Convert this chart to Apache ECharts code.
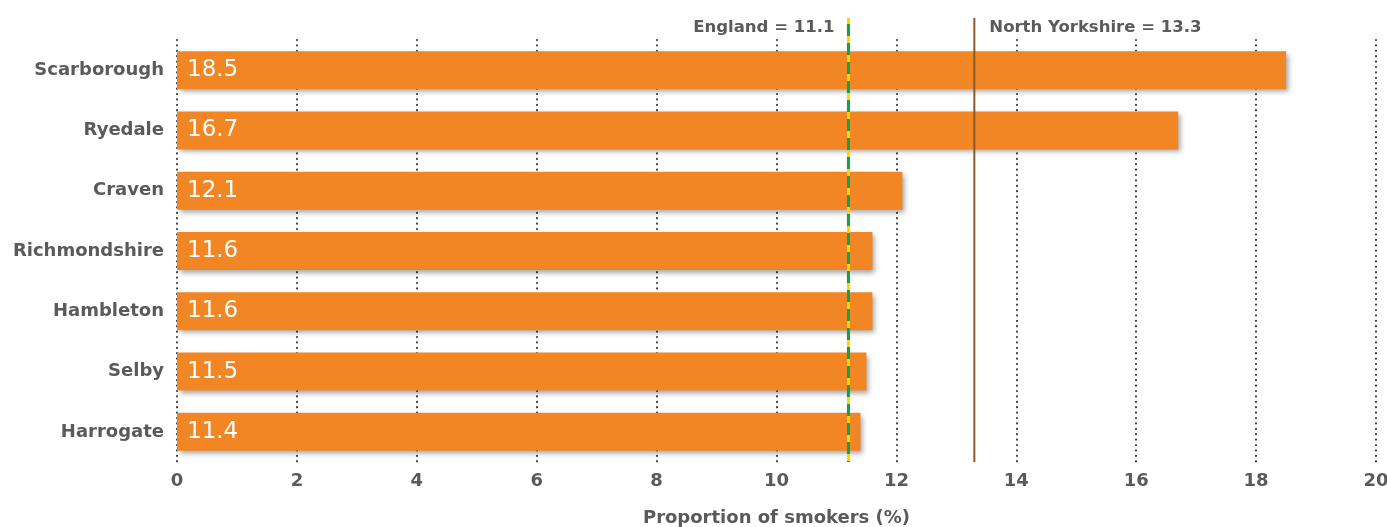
<!DOCTYPE html>
<html>
<head>
<meta charset="utf-8">
<script src="https://cdn.jsdelivr.net/npm/echarts@6/dist/echarts.min.js"></script>
<style>
html,body{margin:0;padding:0;background:#fff;}
#chart{width:1387px;height:527px;}
</style>
</head>
<body>
<div id="chart"></div>
<script>
const categories = ['Scarborough','Ryedale','Craven','Richmondshire','Hambleton','Selby','Harrogate'];
const values = [18.5, 16.7, 12.1, 11.6, 11.6, 11.5, 11.4];
const xTicks = [0,2,4,6,8,10,12,14,16,18,20];
const englandValue = 11.2;
const englandLabel = 'England = 11.1';
const nyValue = 13.3;
const nyLabel = 'North Yorkshire = 13.3';

const FONT = '"DejaVu Sans", sans-serif';
const TXT = '#5a5a5a';
const chart = echarts.init(document.getElementById('chart'), null, {renderer:'canvas'});

function refLine(value, label, kind) {
  return {
    type: 'custom',
    coordinateSystem: 'cartesian2d',
    data: [[value, 0]],
    z: 10,
    silent: true,
    renderItem: function (params, api) {
      const x = api.coord([api.value(0), 0])[0];
      const cs = params.coordSys;
      const y1 = cs.y - 22, y2 = cs.y + cs.height;
      const children = [];
      if (kind === 'england') {
        children.push({type:'line', shape:{x1:x,y1:y1,x2:x,y2:y2}, style:{stroke:'#FFD400', lineWidth:3}});
        children.push({type:'line', shape:{x1:x,y1:y1,x2:x,y2:y2}, style:{stroke:'#12A04A', lineWidth:3, lineDash:[12,7], lineDashOffset:-6}});
        children.push({type:'text', style:{text:label, x:x-14, y:y1+10, align:'right', verticalAlign:'middle', fill:TXT, font:'bold 16.5px ' + FONT}});
      } else {
        children.push({type:'line', shape:{x1:x,y1:y1,x2:x,y2:y2}, style:{stroke:'#8B5A2B', lineWidth:2}});
        children.push({type:'text', style:{text:label, x:x+15, y:y1+10, align:'left', verticalAlign:'middle', fill:TXT, font:'bold 16.5px ' + FONT}});
      }
      return {type:'group', children: children};
    }
  };
}

chart.setOption({
  animation: false,
  backgroundColor: '#fff',
  grid: {left: 177, right: 11, top: 40, bottom: 65, containLabel: false, outerBoundsMode: 'none'},
  xAxis: {
    type: 'value', min: 0, max: 20, interval: 2,
    name: 'Proportion of smokers (%)', nameLocation: 'middle', nameGap: 47,
    nameTextStyle: {color:TXT, fontSize:18, fontWeight:'bold', fontFamily:FONT},
    axisLine: {show:false}, axisTick: {show:false},
    axisLabel: {color:TXT, fontSize:18, fontWeight:'bold', fontFamily:FONT, margin:10,
      formatter: function(v){ return xTicks.indexOf(v) >= 0 ? String(v) : ''; }},
    splitLine: {show:true, lineStyle:{color:'#444', width:2.2, type:[0.1,5.3], cap:'round'}}
  },
  yAxis: {
    type: 'category', data: categories, inverse: true,
    axisLine: {show:false}, axisTick: {show:false},
    axisLabel: {color:TXT, fontSize:18, fontWeight:'bold', fontFamily:FONT, margin:13},
    splitLine: {show:false}
  },
  series: [
    {
      type: 'bar', data: values, barCategoryGap: '37%',
      itemStyle: {color:'#F28524', shadowColor:'rgba(0,0,0,0.35)', shadowBlur:5, shadowOffsetX:3, shadowOffsetY:3},
      label: {show:true, position:'insideLeft', distance:10, color:'#fff', fontSize:23, fontFamily:FONT,
        formatter: function(p){ return p.value.toFixed(1); }},
      z: 3
    },
    refLine(englandValue, englandLabel, 'england'),
    refLine(nyValue, nyLabel, 'ny')
  ]
});
</script>
</body>
</html>
